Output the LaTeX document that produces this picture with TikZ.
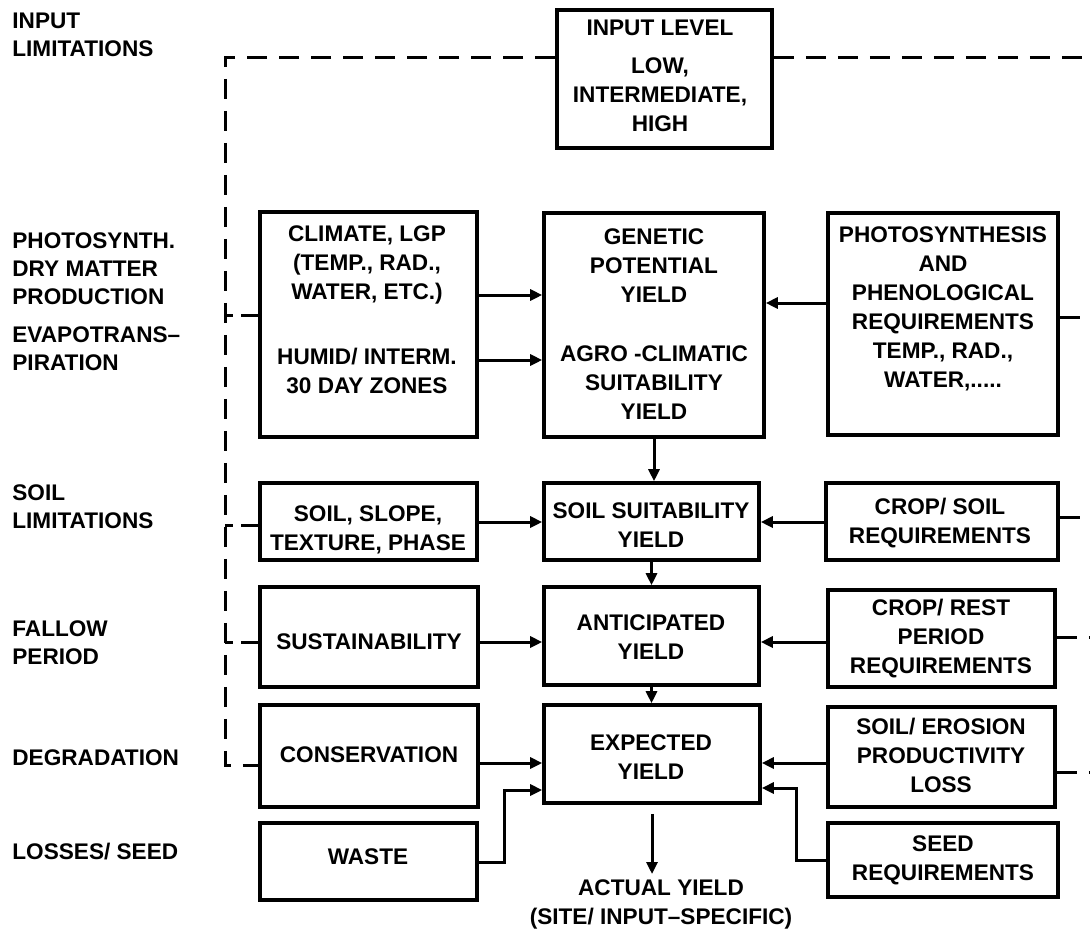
\documentclass[tikz,border=0pt]{standalone}
\usepackage{fontspec}
\setmainfont{Liberation Sans}
\usetikzlibrary{arrows.meta,fit}
\begin{document}
\begin{tikzpicture}[x=0.5pt,y=-0.5pt,
  box/.style={draw, line width=1.8pt, rectangle, inner sep=0pt},
  txt/.style={font=\fontsize{11.3}{14.5}\selectfont\bfseries, align=center, inner sep=0pt},
  lab/.style={font=\fontsize{11.3}{14}\selectfont\bfseries, align=left, anchor=west, inner sep=0pt},
  arr/.style={line width=1.5pt, -{Triangle[length=6pt,width=5.5pt]}},
  dline/.style={line width=1.5pt, dash pattern=on 10pt off 6pt},
  stub/.style={line width=1.5pt, dash pattern=on 4pt off 4pt on 12pt off 0pt},
]
\useasboundingbox (0,0) rectangle (1090,933);
\clip (0,0) rectangle (1090,933);

% left labels
\node[lab] (l1) at (12,35) {INPUT\\LIMITATIONS};
\node[lab] (l2) at (12,269) {PHOTOSYNTH.\\DRY MATTER\\PRODUCTION};
\node[lab] (l3) at (12,349) {EVAPOTRANS–\\PIRATION};
\node[lab] (l4) at (12,507) {SOIL\\LIMITATIONS};
\node[lab] (l5) at (12,643) {FALLOW\\PERIOD};
\node[lab] (l6) at (12,758) {DEGRADATION};
\node[lab] (l7) at (12,852) {LOSSES/ SEED};

% boxes
\node[box, fit={(557,10)(772,148)}] (input) {};
\node[box, fit={(260,212)(477,437)}] (climate) {};
\node[box, fit={(544,213)(764,437)}] (genetic) {};
\node[box, fit={(828,213)(1058,435)}] (photo) {};
\node[box, fit={(260,483)(477,560)}] (soilslope) {};
\node[box, fit={(544,483)(759,560)}] (soilsuit) {};
\node[box, fit={(826,483)(1058,560)}] (cropsoil) {};
\node[box, fit={(260,587)(478,687)}] (sustain) {};
\node[box, fit={(544,587)(759,685)}] (anticip) {};
\node[box, fit={(828,590)(1055,687)}] (croprest) {};
\node[box, fit={(260,705)(478,807)}] (conserv) {};
\node[box, fit={(544,705)(760,803)}] (expected) {};
\node[box, fit={(828,707)(1055,807)}] (soilero) {};
\node[box, fit={(260,823)(477,900)}] (waste) {};
\node[box, fit={(828,823)(1058,897)}] (seed) {};

% box texts
\node[txt] (input-t) at (660,76) {INPUT LEVEL\\[4.5pt]LOW,\\INTERMEDIATE,\\HIGH};
\node[txt] (climate-t) at (367,310) {CLIMATE, LGP\\(TEMP., RAD.,\\WATER, ETC.)\\[18pt]HUMID/ INTERM.\\30 DAY ZONES};
\node[txt] (genetic-t) at (654,324) {GENETIC\\POTENTIAL\\YIELD\\[15pt]AGRO -CLIMATIC\\SUITABILITY\\YIELD};
\node[txt] (photo-t) at (943,309) {PHOTOSYNTHESIS\\AND\\PHENOLOGICAL\\REQUIREMENTS\\TEMP., RAD.,\\WATER,.....};
\node[txt] (soilslope-t) at (368,530) {SOIL, SLOPE,\\TEXTURE, PHASE};
\node[txt] (soilsuit-t) at (651,525) {SOIL SUITABILITY\\YIELD};
\node[txt] (cropsoil-t) at (940,523) {CROP/ SOIL\\REQUIREMENTS};
\node[txt] (sustain-t) at (369,642) {SUSTAINABILITY};
\node[txt] (anticip-t) at (651,637) {ANTICIPATED\\YIELD};
\node[txt] (croprest-t) at (941,639) {CROP/ REST\\PERIOD\\REQUIREMENTS};
\node[txt] (conserv-t) at (369,755) {CONSERVATION};
\node[txt] (expected-t) at (651,757) {EXPECTED\\YIELD};
\node[txt] (soilero-t) at (941,755) {SOIL/ EROSION\\PRODUCTIVITY\\LOSS};
\node[txt] (waste-t) at (368,857) {WASTE};
\node[txt] (seed-t) at (943,860) {SEED\\REQUIREMENTS};
\node[txt] (actual) at (661,904) {ACTUAL YIELD\\(SITE/ INPUT–SPECIFIC)};

% dashed buses
\coordinate (tl) at (225,57);
\coordinate (bl) at (225,765);
\coordinate (tr) at (1091,57);
\coordinate (br) at (1091,772);
\draw[dline] (input.west |- tl) -- (tl) -- (bl) -- (conserv.west |- bl);
\draw[stub] (tl |- 0,315) -- (climate.west |- 0,315);
\draw[stub] (tl |- 0,525) -- (soilslope.west |- 0,525);
\draw[stub] (tl |- 0,642) -- (sustain.west |- 0,642);
\draw[dline] (input.east |- tr) -- (tr) -- (br);
\draw[dline] (soilero.east |- br) -- (br);
\draw[dline] (photo.east |- 0,317) -- (tr |- 0,317);
\draw[dline] (cropsoil.east |- 0,517) -- (tr |- 0,517);
\draw[dline] (croprest.east |- 0,637) -- (tr |- 0,637);

% solid arrows
\draw[arr] (climate.east |- 0,295) -- (genetic.west |- 0,295);
\draw[arr] (climate.east |- 0,360) -- (genetic.west |- 0,360);
\draw[arr] (photo.west |- 0,303) -- (genetic.east |- 0,303);
\draw[arr] (genetic.south) -- (genetic.south |- soilsuit.north);
\draw[arr] (soilslope.east |- 0,522) -- (soilsuit.west |- 0,522);
\draw[arr] (cropsoil.west |- 0,522) -- (soilsuit.east |- 0,522);
\draw[arr] (soilsuit.south) -- (soilsuit.south |- anticip.north);
\draw[arr] (sustain.east |- 0,642) -- (anticip.west |- 0,642);
\draw[arr] (croprest.west |- 0,642) -- (anticip.east |- 0,642);
\draw[arr] (anticip.south) -- (anticip.south |- expected.north);
\draw[arr] (conserv.east |- 0,763) -- (expected.west |- 0,763);
\draw[arr] (soilero.west |- 0,763) -- (expected.east |- 0,763);
\coordinate (wb) at (504,790);
\draw[arr] (waste.east |- 0,862) -| (wb) -- (expected.west |- wb);
\coordinate (sb) at (796,788);
\draw[arr] (seed.west |- 0,860) -| (sb) -- (expected.east |- sb);
\draw[arr, shorten <=4.5pt] (expected.south) -- (expected.south |- 0,874);
\end{tikzpicture}
\end{document}
